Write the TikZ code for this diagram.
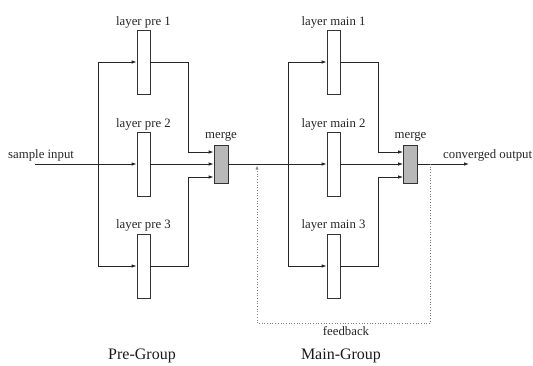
\documentclass[tikz,border=0pt]{standalone}
\usepackage{fontspec}
\setmainfont{Liberation Serif}
\usetikzlibrary{arrows.meta,calc}
\begin{document}
\begin{tikzpicture}[x=1pt,y=-1pt,
  layerbox/.style={draw=black!80, fill=white, line width=0.8pt,
    minimum width=13pt, minimum height=64pt, inner sep=0pt},
  mergebox/.style={draw=black!80, fill=black!28, line width=0.8pt,
    minimum width=14pt, minimum height=38pt, inner sep=0pt},
  wire/.style={draw=black!85, line width=0.8pt},
  flow/.style={wire, -{Latex[length=5pt,width=3.5pt]}},
  fb/.style={draw=black!50, line width=0.7pt, dotted,
    -{Latex[length=4pt,width=3pt]}},
  lbl/.style={font=\fontsize{12.8}{14}\selectfont, anchor=base,
    inner sep=0pt, text=black!85},
  grp/.style={font=\fontsize{16}{18}\selectfont, anchor=base,
    inner sep=0pt, text=black!90}]
\useasboundingbox (0,0) rectangle (533,365);

% pre group layers and merge
\node[layerbox] (p1) at (143.5,62) {};
\node[layerbox] (p2) at (143.5,164) {};
\node[layerbox] (p3) at (143.5,266) {};
\node[mergebox] (m1) at (221,164) {};

% main group layers and merge
\node[layerbox] (q1) at (333.5,62) {};
\node[layerbox] (q2) at (333.5,164) {};
\node[layerbox] (q3) at (333.5,266) {};
\node[mergebox] (m2) at (410.5,164) {};

% labels
\node[lbl] (p1l) at (143.5,25) {layer pre 1};
\node[lbl] (p2l) at (143.5,127) {layer pre 2};
\node[lbl] (p3l) at (143.5,228) {layer pre 3};
\node[lbl] (m1l) at (221,138) {merge};
\node[lbl] (q1l) at (333.5,25) {layer main 1};
\node[lbl] (q2l) at (333.5,127) {layer main 2};
\node[lbl] (q3l) at (333.5,228) {layer main 3};
\node[lbl] (m2l) at (410.5,138) {merge};
\node[lbl, anchor=base west] (inl) at (8,158) {sample input};
\node[lbl, anchor=base west] (outl) at (443,158) {converged output};
\node[lbl] (fbl) at (346,335) {feedback};
\node[grp] (g1) at (142,359) {Pre-Group};
\node[grp] (g2) at (341,359) {Main-Group};

% pre group wiring
\coordinate (in) at (35,164);
\coordinate (pfork) at (98,164);
\draw[flow] (in) -- (p2);
\draw[wire] (pfork) -- (98,62);
\draw[flow] (pfork) |- (p1);
\draw[flow] (pfork) |- (p3);
\draw[flow] (p1.east) -| ($(m1.west)+(-25,-12)$) -- ($(m1.west)+(0,-12)$);
\draw[flow] (p2) -- (m1);
\draw[flow] (p3.east) -| ($(m1.west)+(-25,13)$) -- ($(m1.west)+(0,13)$);

% main group wiring
\coordinate (mfork) at (288,164);
\draw[flow] (m1) -- (q2);
\draw[flow] (mfork) |- (q1);
\draw[flow] (mfork) |- (q3);
\draw[flow] (q1.east) -| ($(m2.west)+(-25,-12)$) -- ($(m2.west)+(0,-12)$);
\draw[flow] (q2) -- (m2);
\draw[flow] (q3.east) -| ($(m2.west)+(-25,13)$) -- ($(m2.west)+(0,13)$);
\coordinate (out) at (469,164);
\draw[flow] (m2) -- (out);

% feedback loop
\coordinate (fbs) at (430,164);
\coordinate (fba) at (430,323);
\coordinate (fbe) at (257,165.5);
\draw[fb] (fbs) -- (fba) -| (fbe);
\end{tikzpicture}
\end{document}
